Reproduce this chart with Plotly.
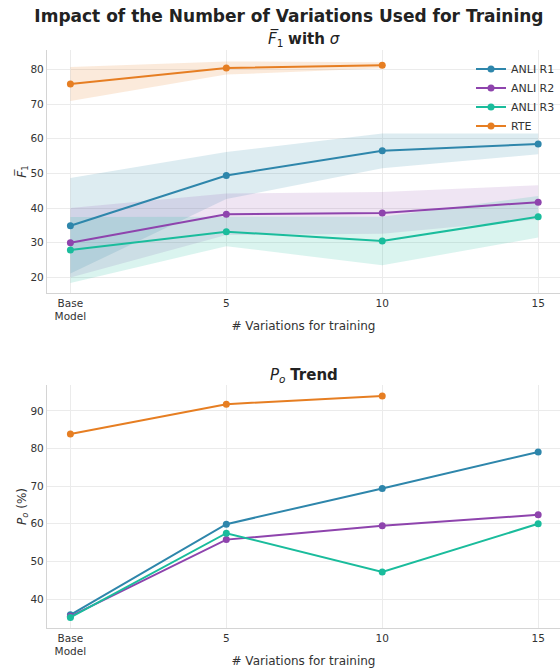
import plotly.graph_objects as go

# Number of training variations (0 stands for the base model)
variations = [0, 5, 10, 15]
tick_text = ["Base<br>Model", "5", "10", "15"]

# Mean F1 and its standard deviation per dataset
f1_anli_r1 = [34.9, 49.4, 56.5, 58.5]
sd_anli_r1 = [13.8, 6.8, 5.0, 3.0]
f1_anli_r2 = [30.0, 38.2, 38.6, 41.7]
sd_anli_r2 = [10.0, 6.0, 6.0, 4.9]
f1_anli_r3 = [27.9, 33.2, 30.5, 37.5]
sd_anli_r3 = [9.5, 4.2, 7.0, 6.0]
f1_rte = [75.8, 80.4, 81.2]
sd_rte = [4.9, 1.9, 0.9]

# P_o (%) per dataset
po_anli_r1 = [35.8, 59.9, 69.4, 79.1]
po_anli_r2 = [35.4, 55.8, 59.5, 62.4]
po_anli_r3 = [35.1, 57.5, 47.2, 60.0]
po_rte = [83.9, 91.8, 94.0]

series = [
    ("ANLI R1", "#2e86ab", "rgba(46,134,171,0.16)", f1_anli_r1, sd_anli_r1, po_anli_r1),
    ("ANLI R2", "#8e44ad", "rgba(142,68,173,0.14)", f1_anli_r2, sd_anli_r2, po_anli_r2),
    ("ANLI R3", "#1abc9c", "rgba(26,188,156,0.16)", f1_anli_r3, sd_anli_r3, po_anli_r3),
    ("RTE", "#e67e22", "rgba(230,126,34,0.16)", f1_rte, sd_rte, po_rte),
]

fig = go.Figure()

# Shaded +/- sigma bands
for name, color, fill, mean, sd, _ in series:
    xs = variations[:len(mean)]
    upper = [m + s for m, s in zip(mean, sd)]
    lower = [m - s for m, s in zip(mean, sd)]
    fig.add_trace(go.Scatter(
        x=xs + xs[::-1], y=upper + lower[::-1], fill="toself",
        fillcolor=fill, line=dict(width=0), mode="lines",
        hoverinfo="skip", showlegend=False, xaxis="x", yaxis="y"))

# Mean F1 lines
for name, color, fill, mean, sd, _ in series:
    fig.add_trace(go.Scatter(
        x=variations[:len(mean)], y=mean, mode="lines+markers", name=name,
        line=dict(color=color, width=2), marker=dict(color=color, size=7),
        xaxis="x", yaxis="y"))

# P_o lines
for name, color, fill, _, _, po in series:
    fig.add_trace(go.Scatter(
        x=variations[:len(po)], y=po, mode="lines+markers", name=name,
        line=dict(color=color, width=2), marker=dict(color=color, size=7),
        showlegend=False, xaxis="x2", yaxis="y2"))

font = "DejaVu Sans"
axis_common = dict(
    showgrid=True, gridcolor="#ebebeb", gridwidth=1,
    showline=True, linecolor="#d4d4d4", linewidth=1.2,
    ticks="", zeroline=False, automargin=False,
    tickfont=dict(size=10.5, color="#333333"),
)
x_common = dict(axis_common, range=[-0.75, 15.7], tickvals=variations,
                ticktext=tick_text)
x_title = dict(text="# Variations for training", font=dict(size=12), standoff=0)

top_dom = [0.5796, 1.0]
bot_dom = [0.0, 0.4204]

fig.update_layout(
    width=560, height=670,
    margin=dict(l=47, r=0, t=50, b=42),
    paper_bgcolor="white", plot_bgcolor="white",
    font=dict(family=font, color="#333333", size=11),
    title=dict(text="<b>Impact of the Number of Variations Used for Training</b>",
               x=0.516, xref="container", xanchor="center",
               y=0.985, yanchor="top",
               font=dict(size=17, color="#222222")),
    xaxis=dict(x_common, anchor="y", title=x_title),
    yaxis=dict(axis_common, domain=top_dom, range=[15.5, 85.6],
               tickvals=[20, 30, 40, 50, 60, 70, 80],
               title=dict(text="<i>F̅</i><sub>1</sub>", font=dict(size=12),
                          standoff=0)),
    xaxis2=dict(x_common, anchor="y2", title=x_title),
    yaxis2=dict(axis_common, domain=bot_dom, range=[32.3, 96.9],
                tickvals=[40, 50, 60, 70, 80, 90],
                title=dict(text="<i>P<sub>o</sub></i> (%)", font=dict(size=12),
                           standoff=0)),
    legend=dict(x=1.0, y=0.992, xanchor="right", yanchor="top",
                bgcolor="rgba(255,255,255,0)", font=dict(size=11),
                tracegroupgap=0, itemwidth=30),
    annotations=[
        dict(text="<i>F̅</i><sub>1</sub> <b>with</b> <i>σ</i>", xref="paper", yref="paper",
             x=0.5, y=top_dom[1], yanchor="bottom", yshift=-1, showarrow=False,
             font=dict(size=15, color="#222222")),
        dict(text="<i>P<sub>o</sub></i> <b>Trend</b>", xref="paper", yref="paper",
             x=0.5, y=bot_dom[1], yanchor="bottom", yshift=-2, showarrow=False,
             font=dict(size=15, color="#222222")),
    ],
)

fig.write_html("out.html")
